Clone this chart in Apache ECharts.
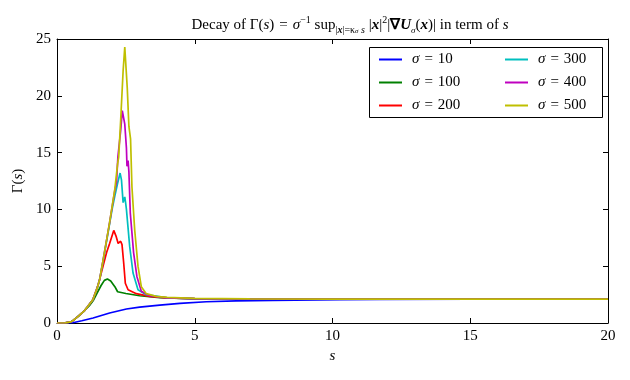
<!DOCTYPE html>
<html>
<head>
<meta charset="utf-8">
<script src="https://cdn.jsdelivr.net/npm/echarts@6/dist/echarts.min.js"></script>
<style>
  html, body { margin: 0; padding: 0; background: #fff; }
  #chart { width: 630px; height: 380px; }
</style>
</head>
<body>
<div id="chart"></div>
<script>
// sigma values and their curves, [s, Gamma(s)]
const sigmas = [10, 100, 200, 300, 400, 500];
const colors = ['#0000ff', '#008000', '#ff0000', '#00bfbf', '#bf00bf', '#bfbf00'];

const gamma10 = [[0, 0], [0.3, 0], [0.58, 0.02], [0.9, 0.2], [1.31, 0.44], [1.91, 0.88], [2.52, 1.23],
  [3.0, 1.4], [3.73, 1.58], [4.46, 1.72], [5.42, 1.87], [6.5, 1.94], [7.83, 1.99], [10.26, 2.05],
  [11.7, 2.08], [15, 2.1], [20, 2.1]];
const gamma100 = [[0, 0], [0.3, 0.01], [0.5, 0.1], [0.6, 0.25], [0.8, 0.65], [1.0, 1.1], [1.2, 1.6],
  [1.31, 1.95], [1.45, 2.6], [1.6, 3.3], [1.72, 3.75], [1.83, 3.87], [1.95, 3.7], [2.1, 3.2], [2.2, 2.75],
  [2.5, 2.6], [3.0, 2.4], [3.73, 2.23], [4.5, 2.16], [5, 2.13], [7, 2.12], [10, 2.11], [15, 2.11], [20, 2.11]];
const gamma200 = [[0, 0], [0.3, 0.01], [0.5, 0.1], [0.6, 0.25], [0.8, 0.65], [1.0, 1.1], [1.1, 1.4],
  [1.3, 2.05], [1.5, 3.4], [1.67, 5.0], [1.8, 6.2], [1.91, 7.0], [2.06, 8.15], [2.15, 7.6], [2.22, 7.0],
  [2.28, 7.0], [2.31, 7.2], [2.36, 6.9], [2.42, 5.3], [2.48, 3.5], [2.58, 2.93], [2.88, 2.58], [3.36, 2.34],
  [4, 2.22], [5, 2.15], [7, 2.12], [10, 2.11], [15, 2.11], [20, 2.11]];
const gamma300 = [[0, 0], [0.3, 0.01], [0.5, 0.1], [0.6, 0.25], [0.8, 0.65], [1.0, 1.1], [1.1, 1.4],
  [1.3, 2.05], [1.45, 3.0], [1.55, 3.85], [1.7, 5.8], [1.9, 8.6], [2.0, 10.0], [2.1, 11.2], [2.2, 12.3],
  [2.29, 13.2], [2.34, 12.6], [2.4, 10.6], [2.46, 11.1], [2.49, 10.6], [2.52, 10.0], [2.64, 6.7],
  [2.76, 4.4], [2.94, 2.93], [3.24, 2.49], [4, 2.22], [5, 2.15], [7, 2.12], [10, 2.11], [15, 2.11], [20, 2.11]];
const gamma400 = [[0, 0], [0.3, 0.01], [0.5, 0.1], [0.6, 0.25], [0.8, 0.65], [1.0, 1.1], [1.1, 1.4],
  [1.3, 2.05], [1.45, 3.0], [1.55, 3.85], [1.7, 5.9], [1.9, 8.7], [2.1, 11.7], [2.16, 12.4], [2.21, 14.6],
  [2.31, 16.9], [2.37, 18.7], [2.46, 17.5], [2.52, 15.4], [2.54, 13.8], [2.58, 14.3], [2.61, 13.3],
  [2.66, 9.7], [2.78, 6.2], [2.9, 4.1], [3.06, 2.8], [3.36, 2.4], [4, 2.22], [5, 2.15], [7, 2.12],
  [10, 2.11], [15, 2.11], [20, 2.11]];
const gamma500 = [[0, 0], [0.3, 0.01], [0.5, 0.1], [0.6, 0.25], [0.8, 0.65], [1.0, 1.1], [1.1, 1.4],
  [1.3, 2.05], [1.45, 3.0], [1.55, 3.85], [1.7, 5.9], [1.9, 8.7], [2.1, 11.8], [2.2, 14.0], [2.24, 14.6],
  [2.31, 17.8], [2.4, 22.2], [2.46, 24.3], [2.55, 20.7], [2.61, 17.3], [2.65, 17.2], [2.67, 16.2],
  [2.72, 12.0], [2.82, 8.2], [2.94, 5.0], [3.06, 3.2], [3.24, 2.58], [3.6, 2.35], [4, 2.25], [5, 2.16],
  [7, 2.12], [10, 2.11], [15, 2.11], [20, 2.11]];
const curves = [gamma10, gamma100, gamma200, gamma300, gamma400, gamma500];

const xTicks = [0, 5, 10, 15, 20];
const yTicks = [0, 5, 10, 15, 20, 25];

const serif = 'Liberation Serif';
// math-style spacing around "="
const names = sigmas.map(v => '{i|σ}\u2004=\u2004' + v);

function frameAxis(extra) {
  return Object.assign({
    type: 'value',
    min: 0,
    interval: 5,
    axisLine: { show: true, onZero: false, lineStyle: { color: '#000', width: 1 } },
    axisTick: { show: true, inside: true, length: 5, lineStyle: { color: '#000' } },
    splitLine: { show: false }
  }, extra);
}

const legendCommon = {
  orient: 'vertical',
  icon: 'rect',
  itemWidth: 23,
  itemHeight: 2,
  itemGap: 8,
  padding: 0,
  textStyle: {
    fontFamily: serif, fontSize: 15, color: '#000', lineHeight: 14, padding: [0, 0, 0, 5],
    rich: { i: { fontFamily: serif, fontStyle: 'italic', fontSize: 15, lineHeight: 14 } }
  }
};

const chart = echarts.init(document.getElementById('chart'), null, { renderer: 'canvas' });
chart.setOption({
  animation: false,
  backgroundColor: '#fff',
  title: {
    text: 'Decay of Γ({i|s})\u2004=\u2004{i|σ}{sup|−1} sup{sub||}{subb|x}{sub||=κ}{subs|σ}{subi| s} |{b|x}|{sup|2}|{bn|∇}{b|U}{sub2|σ}({b|x})| in term of {i|s}',
    left: 345,
    top: 10,
    textAlign: 'center',
    textStyle: {
      fontFamily: serif, fontSize: 15, fontWeight: 'normal', color: '#000', lineHeight: 20,
      rich: {
        i: { fontFamily: serif, fontStyle: 'italic', fontSize: 15 },
        b: { fontFamily: serif, fontStyle: 'italic', fontWeight: 'bold', fontSize: 15 },
        bn: { fontFamily: serif, fontWeight: 'bold', fontSize: 15 },
        sup: { fontFamily: serif, fontSize: 10, verticalAlign: 'top', lineHeight: 14 },
        sub: { fontFamily: serif, fontSize: 10, verticalAlign: 'bottom', lineHeight: 12 },
        subb: { fontFamily: serif, fontSize: 10, fontStyle: 'italic', fontWeight: 'bold', verticalAlign: 'bottom', lineHeight: 12 },
        subi: { fontFamily: serif, fontSize: 10, fontStyle: 'italic', verticalAlign: 'bottom', lineHeight: 12 },
        subs: { fontFamily: serif, fontSize: 7, fontStyle: 'italic', verticalAlign: 'bottom', lineHeight: 8 },
        sub2: { fontFamily: serif, fontSize: 9, fontStyle: 'italic', verticalAlign: 'bottom', lineHeight: 10 }
      }
    }
  },
  grid: { left: 57, right: 22, top: 39, bottom: 57 },
  legend: [
    Object.assign({}, legendCommon, { left: 379, top: 52, data: names.slice(0, 3) }),
    Object.assign({}, legendCommon, { left: 505, top: 52, data: names.slice(3) })
  ],
  graphic: [{
    type: 'rect',
    shape: { x: 369.5, y: 47.5, width: 233, height: 70 },
    style: { fill: 'none', stroke: '#000', lineWidth: 1 },
    z: 100
  }],
  xAxis: [
    frameAxis({
      position: 'bottom', max: 20,
      name: '{i|s}', nameLocation: 'middle', nameGap: 26,
      nameTextStyle: { fontFamily: serif, fontSize: 15, color: '#000', rich: { i: { fontFamily: serif, fontStyle: 'italic', fontSize: 15 } } },
      axisLabel: { color: '#000', fontFamily: serif, fontSize: 15, margin: 6, formatter: v => xTicks.includes(v) ? String(v) : '' }
    }),
    frameAxis({ position: 'top', max: 20, axisLabel: { show: false } })
  ],
  yAxis: [
    frameAxis({
      position: 'left', max: 25,
      name: 'Γ({i|s})', nameLocation: 'middle', nameGap: 24, nameRotate: 90,
      nameTextStyle: { fontFamily: serif, fontSize: 15, color: '#000', rich: { i: { fontFamily: serif, fontStyle: 'italic', fontSize: 15 } } },
      axisLabel: { color: '#000', fontFamily: serif, fontSize: 15, margin: 6, formatter: v => yTicks.includes(v) ? String(v) : '' }
    }),
    frameAxis({ position: 'right', max: 25, axisLabel: { show: false } })
  ],
  series: curves.map((d, k) => ({
    name: names[k],
    type: 'line',
    data: d,
    symbol: 'none',
    smooth: false,
    color: colors[k],
    lineStyle: { color: colors[k], width: 1.7 },
    clip: true
  }))
});
</script>
</body>
</html>
